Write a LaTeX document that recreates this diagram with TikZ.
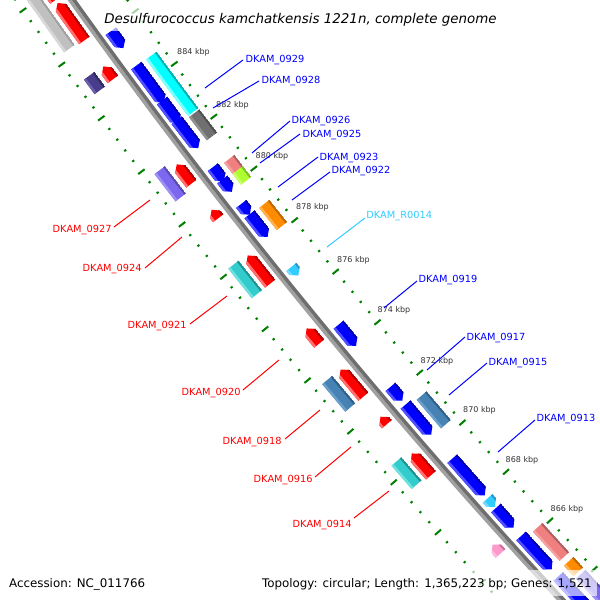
\documentclass[tikz,border=0pt]{standalone}
\usepackage{fontspec}
\setmainfont{DejaVu Sans}
\definecolor{blueB}{HTML}{0000FF}\definecolor{blueL}{HTML}{5050FF}\definecolor{blueD}{HTML}{0000B0}
\definecolor{redB}{HTML}{FF0000}\definecolor{redL}{HTML}{FF7070}\definecolor{redD}{HTML}{B00000}
\definecolor{cyanB}{HTML}{00FFFF}\definecolor{cyanL}{HTML}{80FFFF}\definecolor{cyanD}{HTML}{00B0B0}
\definecolor{turqB}{HTML}{33CCCC}\definecolor{turqL}{HTML}{70E0E0}\definecolor{turqD}{HTML}{209090}
\definecolor{dgrayB}{HTML}{707070}\definecolor{dgrayL}{HTML}{909090}\definecolor{dgrayD}{HTML}{505050}
\definecolor{lgrayB}{HTML}{C0C0C0}\definecolor{lgrayL}{HTML}{D8D8D8}\definecolor{lgrayD}{HTML}{A0A0A0}
\definecolor{dslateB}{HTML}{483D8B}\definecolor{dslateL}{HTML}{6A5FAA}\definecolor{dslateD}{HTML}{30285E}
\definecolor{mslateB}{HTML}{7B68EE}\definecolor{mslateL}{HTML}{9F90F5}\definecolor{mslateD}{HTML}{5A4AB0}
\definecolor{salmonB}{HTML}{F08080}\definecolor{salmonL}{HTML}{F5A0A0}\definecolor{salmonD}{HTML}{B06060}
\definecolor{limeB}{HTML}{ADFF2F}\definecolor{limeL}{HTML}{C8FF70}\definecolor{limeD}{HTML}{80C020}
\definecolor{orangeB}{HTML}{FF8C00}\definecolor{orangeL}{HTML}{FFB050}\definecolor{orangeD}{HTML}{C06800}
\definecolor{steelB}{HTML}{4682B4}\definecolor{steelL}{HTML}{6A9FCC}\definecolor{steelD}{HTML}{30608A}
\definecolor{skyB}{HTML}{33CCFF}\definecolor{skyL}{HTML}{77DDFF}\definecolor{skyD}{HTML}{2299CC}
\definecolor{pinkB}{HTML}{FF99CC}\definecolor{pinkL}{HTML}{FFBBDD}\definecolor{pinkD}{HTML}{CC7099}
\definecolor{tickgreen}{HTML}{008000}
\definecolor{kbpgray}{HTML}{333333}
\definecolor{bbdark}{HTML}{6E6E6E}\definecolor{bblight}{HTML}{A0A0A0}
\definecolor{lblblue}{HTML}{0000FF}\definecolor{lblred}{HTML}{FF0000}\definecolor{lblsky}{HTML}{33CCFF}
\tikzset{
 lbl/.style={font=\fontsize{4.9}{5}\selectfont, inner sep=0pt},
 kbplbl/.style={font=\fontsize{4}{5}\selectfont, text=kbpgray, inner sep=0pt, anchor=base},
 tickmark/.style={draw=tickgreen, line width=1pt},
 lline/.style={line width=0.5pt},
}
% gene: #1,#2 upper-left end (px); #3,#4 lower-right end (px); #5 track radius; #6 colour; #7 0 box,1 tip at lower end,2 tip at upper end
\newcommand\genebox[7]{%
\pgfmathsetmacro\pa{atan2((#2)+3517,(#1)-4995)}%
\pgfmathsetmacro\pb{atan2((#4)+3517,(#3)-4995)}%
\pgfmathsetmacro\paa{\pa+0.02}\pgfmathsetmacro\pbb{\pb-0.02}%
\pgfmathsetmacro\ri{#5-6.5}\pgfmathsetmacro\ro{#5+6.5}%
\pgfmathsetmacro\rl{#5+4}\pgfmathsetmacro\rd{#5-4.5}%
\begin{scope}[shift={(4995,-3517)}]
\ifcase#7\relax
 \clip (\pa:\ri) -- (\pb:\ri) -- (\pb:\ro) -- (\pa:\ro) -- cycle;
\or
 \pgfmathsetmacro\pt{min(\pb+0.057,\pa)}%
 \clip (\pa:\ri) -- (\pt:\ri) -- (\pb:#5) -- (\pt:\ro) -- (\pa:\ro) -- cycle;
\or
 \pgfmathsetmacro\pt{max(\pa-0.057,\pb)}%
 \clip (\pb:\ri) -- (\pt:\ri) -- (\pa:#5) -- (\pt:\ro) -- (\pb:\ro) -- cycle;
\fi
\fill[#6B] (\paa:\ri) -- (\pbb:\ri) -- (\pbb:\ro) -- (\paa:\ro) -- cycle;
\fill[#6L] (\paa:\rl) -- (\pbb:\rl) -- (\pbb:\ro) -- (\paa:\ro) -- cycle;
\fill[#6D] (\paa:\ri) -- (\pbb:\ri) -- (\pbb:\rd) -- (\paa:\rd) -- cycle;
\end{scope}}
\begin{document}
\begin{tikzpicture}[x=0.5pt,y=-0.5pt]
\useasboundingbox (0,0) rectangle (600,600);
\clip (0,0) rectangle (600,600);
\fill[white] (0,0) rectangle (600,600);
% scale rings
\begin{scope}[shift={(4995,-3517)}]
\foreach \i in {0,...,75}{
 \pgfmathsetmacro\ph{137.75+(860+0.4*\i-866)*0.3135}
 \pgfmathtruncatemacro\m{mod(\i,5)}
 \ifnum\m=0
  \draw[tickmark] (\ph:6001.4) -- (\ph:6009.4);
  \draw[tickmark] (\ph:6092.4) -- (\ph:6100.4);
 \else
  \draw[tickmark] (\ph:6004.2) -- (\ph:6006.6);
  \draw[tickmark] (\ph:6095.2) -- (\ph:6097.6);
 \fi
}
% backbone
\draw[line width=1.75pt, bblight] (135:6052) arc[start angle=135, end angle=147, radius=6052];
\draw[line width=1.75pt, bbdark] (135:6048.5) arc[start angle=135, end angle=147, radius=6048.5];
\end{scope}
% outer left track
\genebox{10}{-30}{69}{49}{6081}{lgray}{0}
\genebox{89}{76}{99}{91}{6081}{dslate}{0}
\genebox{160}{170}{180}{198}{6081}{mslate}{0}
\genebox{232}{266}{256}{295}{6081}{turq}{0}
\genebox{326}{381}{346}{411}{6081}{steel}{0}
\genebox{396}{462}{414}{487}{6081}{turq}{0}
% inner left track
\genebox{20}{-40}{54}{1}{6064}{red}{2}
\genebox{59}{2}{85}{40}{6064}{red}{2}
\genebox{104}{66}{112}{80}{6064}{red}{2}
\genebox{176}{165}{191}{184}{6064}{red}{2}
\genebox{210}{211}{220}{217}{6064}{red}{2}
\genebox{247}{256}{271}{283}{6064}{red}{2}
\genebox{306}{329}{320}{343}{6064}{red}{2}
\genebox{340}{370}{363}{397}{6064}{red}{2}
\genebox{379}{418}{387}{424}{6064}{red}{2}
\genebox{410}{455}{430}{476}{6064}{red}{2}
\genebox{491}{546}{501}{553}{6064}{pink}{2}
% inner right track
\genebox{110}{32}{125}{47}{6037}{blue}{1}
\genebox{136}{66}{165}{102}{6037}{blue}{1}
\genebox{163}{100}{182}{121}{6037}{blue}{1}
\genebox{176}{121}{200}{147}{6037}{blue}{1}
\genebox{212}{168}{226}{180}{6037}{blue}{1}
\genebox{222}{180}{233}{191}{6037}{blue}{1}
\genebox{240}{205}{251}{214}{6037}{blue}{1}
\genebox{250}{214}{269}{236}{6037}{blue}{1}
\genebox{290}{268}{299}{275}{6037}{sky}{1}
\genebox{337}{326}{356}{346}{6037}{blue}{1}
\genebox{389}{388}{402}{401}{6037}{blue}{1}
\genebox{405}{405}{432}{434}{6037}{blue}{1}
\genebox{452}{459}{484}{496}{6037}{blue}{1}
\genebox{487}{499}{496}{506}{6037}{sky}{1}
\genebox{496}{508}{513}{528}{6037}{blue}{1}
\genebox{520}{537}{552}{569}{6037}{blue}{1}
\genebox{560}{575}{610}{620}{6037}{blue}{1}
% outer right track
\genebox{151}{56}{181}{91}{6019}{cyan}{0}
\genebox{181}{91}{196}{110}{6019}{cyan}{0}
\genebox{196}{112}{214}{135}{6019}{dgray}{0}
\genebox{228}{160}{238}{170}{6019}{salmon}{0}
\genebox{238}{170}{247}{180}{6019}{lime}{0}
\genebox{263}{205}{282}{226}{6019}{orange}{0}
\genebox{420}{397}{445}{425}{6019}{steel}{0}
\genebox{537}{528}{565}{556}{6019}{salmon}{0}
\genebox{568}{562}{578}{572}{6019}{orange}{0}
\genebox{580}{575}{610}{610}{6019}{mslate}{0}
% kbp labels
\node[kbplbl] (k884) at (193.5,54) {884 kbp};
\node[kbplbl] (k882) at (232.5,107) {882 kbp};
\node[kbplbl] (k880) at (272,158) {880 kbp};
\node[kbplbl] (k878) at (312.5,209) {878 kbp};
\node[kbplbl] (k876) at (353.5,262) {876 kbp};
\node[kbplbl] (k874) at (394,312) {874 kbp};
\node[kbplbl] (k872) at (437,363) {872 kbp};
\node[kbplbl] (k870) at (479.5,412) {870 kbp};
\node[kbplbl] (k868) at (522,462) {868 kbp};
\node[kbplbl] (k866) at (567,511) {866 kbp};
% right labels
\begin{scope}[lline, draw=lblblue]
\node[lbl, text=lblblue, anchor=base west] (l0929) at (245,62) {DKAM\_0929};
\coordinate (g0929) at (205,88); \draw (g0929) -- (243,60);
\node[lbl, text=lblblue, anchor=base west] (l0928) at (261,83) {DKAM\_0928};
\coordinate (g0928) at (213,108); \draw (g0928) -- (259,81);
\node[lbl, text=lblblue, anchor=base west] (l0926) at (291,123) {DKAM\_0926};
\coordinate (g0926) at (252,153); \draw (g0926) -- (290,121);
\node[lbl, text=lblblue, anchor=base west] (l0925) at (302,137) {DKAM\_0925};
\coordinate (g0925) at (260,163); \draw (g0925) -- (300,134);
\node[lbl, text=lblblue, anchor=base west] (l0923) at (319,160) {DKAM\_0923};
\coordinate (g0923) at (278,187); \draw (g0923) -- (318,157);
\node[lbl, text=lblblue, anchor=base west] (l0922) at (331,173) {DKAM\_0922};
\coordinate (g0922) at (292,200); \draw (g0922) -- (330,172);
\node[lbl, text=lblblue, anchor=base west] (l0919) at (418,282) {DKAM\_0919};
\coordinate (g0919) at (384,308); \draw (g0919) -- (417,281);
\node[lbl, text=lblblue, anchor=base west] (l0917) at (466,340) {DKAM\_0917};
\coordinate (g0917) at (427,370); \draw (g0917) -- (465,337);
\node[lbl, text=lblblue, anchor=base west] (l0915) at (488,365) {DKAM\_0915};
\coordinate (g0915) at (449,395); \draw (g0915) -- (487,363);
\node[lbl, text=lblblue, anchor=base west] (l0913) at (536,421) {DKAM\_0913};
\coordinate (g0913) at (498,452); \draw (g0913) -- (535,420);
\end{scope}
\node[lbl, text=lblsky, anchor=base west] (lR0014) at (366,218) {DKAM\_R0014};
\coordinate (gR0014) at (327,247); \draw[lline, lblsky] (gR0014) -- (365,218);
% left labels
\begin{scope}[lline, draw=lblred]
\node[lbl, text=lblred, anchor=base east] (l0927) at (112,232) {DKAM\_0927};
\coordinate (g0927) at (150,200); \draw (g0927) -- (114,227);
\node[lbl, text=lblred, anchor=base east] (l0924) at (142,271) {DKAM\_0924};
\coordinate (g0924) at (182,237); \draw (g0924) -- (145,268);
\node[lbl, text=lblred, anchor=base east] (l0921) at (187,328) {DKAM\_0921};
\coordinate (g0921) at (227,296); \draw (g0921) -- (190,324);
\node[lbl, text=lblred, anchor=base east] (l0920) at (241,395) {DKAM\_0920};
\coordinate (g0920) at (279,360); \draw (g0920) -- (243,390);
\node[lbl, text=lblred, anchor=base east] (l0918) at (282,444) {DKAM\_0918};
\coordinate (g0918) at (320,410); \draw (g0918) -- (285,439);
\node[lbl, text=lblred, anchor=base east] (l0916) at (313,482) {DKAM\_0916};
\coordinate (g0916) at (351,447); \draw (g0916) -- (315,477);
\node[lbl, text=lblred, anchor=base east] (l0914) at (352,527) {DKAM\_0914};
\coordinate (g0914) at (389,491); \draw (g0914) -- (354,518);
\end{scope}
% title and captions
\fill[white, opacity=0.65] (98,4) rectangle (502,31);
\node[inner sep=0pt, anchor=base, font=\fontsize{6.7}{8}\selectfont\itshape] (title) at (300.5,23) {Desulfurococcus kamchatkensis 1221n, complete genome};
\fill[white, opacity=0.65] (4,570) rectangle (147,596);
\fill[white, opacity=0.65] (257,570) rectangle (597,596);
\node[inner sep=0pt, anchor=base west, font=\fontsize{5.93}{7}\selectfont] (acc) at (8.7,587) {Accession: NC\_011766};
\node[inner sep=0pt, anchor=base west, font=\fontsize{5.93}{7}\selectfont] (topo) at (261.7,587) {Topology: circular; Length: 1,365,223 bp; Genes: 1,521};
\end{tikzpicture}
\end{document}
